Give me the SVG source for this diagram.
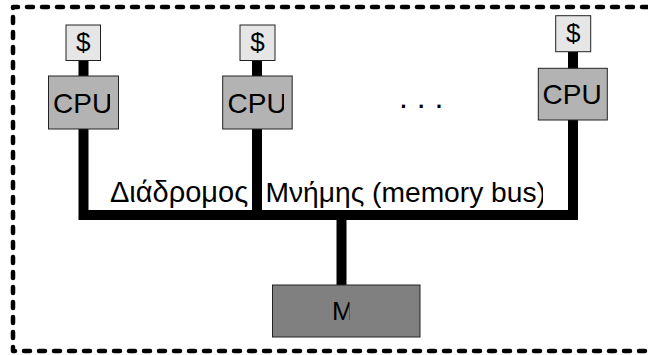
<svg xmlns="http://www.w3.org/2000/svg" width="648" height="355" viewBox="0 0 648 355">
<style>
.t{font-family:"Liberation Sans",Arial,sans-serif;fill:#000}
.cache{fill:#e6e6e6;stroke:#222;stroke-width:1}
.cpu{fill:#b3b3b3;stroke:#222;stroke-width:1}
.mem{fill:#808080;stroke:#222;stroke-width:1}
.wire{stroke:#000;stroke-width:10;fill:none;stroke-linecap:butt}
</style>
<defs>
<clipPath id="cpBus"><rect x="100" y="170" width="443" height="40"/></clipPath>
<clipPath id="cpM"><rect x="300" y="290" width="49.5" height="40"/></clipPath>
<clipPath id="cpC1"><rect x="48" y="76" width="62" height="53"/></clipPath>
<clipPath id="cpC2"><rect x="222" y="76" width="62" height="53"/></clipPath>
<clipPath id="cpC3"><rect x="538" y="68" width="62" height="52"/></clipPath>
</defs>
<path d="M648 7 H13 V351 H648" fill="none" stroke="#000" stroke-width="4.5" stroke-dasharray="6 9" stroke-linecap="round" stroke-linejoin="round"/>
<g id="connectors">
<path class="wire" d="M83.5 61 V220"/>
<path class="wire" d="M257 61 V220"/>
<path class="wire" d="M573 52 V220"/>
<path class="wire" d="M79 215 H578"/>
<path class="wire" d="M341.5 215 V285"/>
</g>
<g id="bus-label">
<text class="t" y="202" font-size="29" clip-path="url(#cpBus)"><tspan x="110">Διάδρομος</tspan> <tspan x="265.5" font-size="28.2">Μνήμης (memory bus)</tspan></text>
</g>
<g id="cache1"><rect class="cache" x="66" y="25" width="34.5" height="35.5"/><text class="t" x="83.3" y="50.5" font-size="26" text-anchor="middle">$</text></g>
<g id="cache2"><rect class="cache" x="240" y="25" width="35" height="35.5"/><text class="t" x="257.5" y="50.5" font-size="26" text-anchor="middle">$</text></g>
<g id="cache3"><rect class="cache" x="555.7" y="15.7" width="35" height="36"/><text class="t" x="573.2" y="41.5" font-size="26" text-anchor="middle">$</text></g>
<g id="cpu1"><rect class="cpu" x="48.5" y="76" width="70" height="53"/><text class="t" x="53" y="112.5" font-size="28" clip-path="url(#cpC1)">CPU</text></g>
<g id="cpu2"><rect class="cpu" x="222.7" y="76" width="69.5" height="53"/><text class="t" x="227.5" y="112.5" font-size="28" clip-path="url(#cpC2)">CPU</text></g>
<g id="cpu3"><rect class="cpu" x="538.3" y="68.3" width="69" height="51.7"/><text class="t" x="542.5" y="103.5" font-size="28" clip-path="url(#cpC3)">CPU</text></g>
<g id="dots"><text class="t" x="399" y="108" font-size="32">. . .</text></g>
<g id="memory"><rect class="mem" x="272.5" y="285" width="147.5" height="52"/><text class="t" x="332" y="320" font-size="26" clip-path="url(#cpM)">M</text></g>
</svg>
